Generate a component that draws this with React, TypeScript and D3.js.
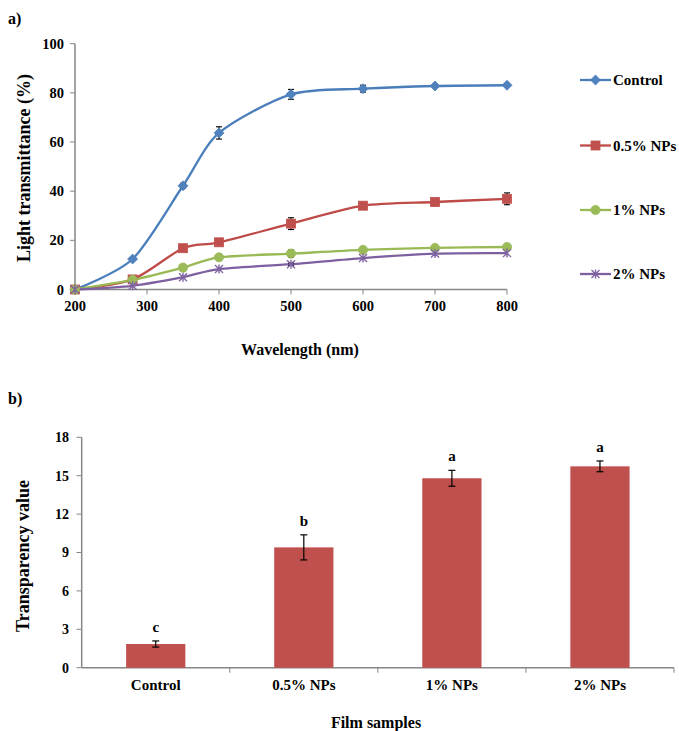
import React from "react";
import * as d3 from "d3";

const wavelengths = [200, 280, 350, 400, 500, 600, 700, 800];
const seriesNames = ["Control", "0.5% NPs", "1% NPs", "2% NPs"];
const controlVals = [0, 12.4, 42.2, 63.7, 79.4, 81.7, 82.8, 83.1];
const np05Vals = [0, 4.1, 16.8, 19.2, 26.8, 34.1, 35.6, 36.9];
const np1Vals = [0, 3.9, 8.9, 13.1, 14.6, 16.1, 16.9, 17.3];
const np2Vals = [0, 1.5, 5.0, 8.3, 10.3, 12.8, 14.6, 14.8];
const controlErr = [0, 0.6, 1, 2.5, 2, 1.4, 0.5, 0.5];
const np05Err = [0, 0.5, 0.8, 0.6, 2.4, 0.8, 0.5, 2.4];
const np1Err = [0, 0.3, 0.3, 0.4, 1.5, 0.4, 0.3, 0.3];
const np2Err = [0, 0.2, 0.3, 0.4, 0.5, 0.4, 0.3, 0.3];
const yTicksTop = [0, 20, 40, 60, 80, 100];
const xTicksTop = [200, 300, 400, 500, 600, 700, 800];

const barCats = ["Control", "0.5% NPs", "1% NPs", "2% NPs"];
const barVals = [1.85, 9.4, 14.8, 15.73];
const barErr = [0.24, 0.98, 0.62, 0.42];
const barLetters = ["c", "b", "a", "a"];
const yTicksBot = [0, 3, 6, 9, 12, 15, 18];

const FONT = '"Times New Roman", "Liberation Serif", "DejaVu Serif", serif';
const AXIS = "#868686";
const colors = ["#4A7EBB", "#BE4B48", "#98B954", "#7D60A0"];
const markerFill = ["#4F81BD", "#C0504D", "#9BBB59", "#8064A2"];

function Marker({ kind, x, y }: { kind: number; x: number; y: number }) {
  const c = markerFill[kind];
  if (kind === 0) {
    const s = 5;
    return <path d={`M${x},${y - s}L${x + s},${y}L${x},${y + s}L${x - s},${y}Z`} fill={c} stroke={c} strokeWidth={0.8} />;
  }
  if (kind === 1) {
    return <rect x={x - 4.5} y={y - 4.5} width={9} height={9} fill={c} stroke={c} strokeWidth={0.8} />;
  }
  if (kind === 2) {
    return <circle cx={x} cy={y} r={4.6} fill={c} stroke={c} strokeWidth={0.8} />;
  }
  const s = 4;
  return (
    <path
      d={`M${x - s},${y - s}L${x + s},${y + s}M${x - s},${y + s}L${x + s},${y - s}M${x},${y - s - 0.5}L${x},${y + s + 0.5}`}
      stroke={c}
      strokeWidth={1.4}
      fill="none"
    />
  );
}

const T = (props: any) => (
  <text {...props} style={{ fontFamily: FONT, fontWeight: "bold", ...(props.style || {}) }} />
);

export default function App() {
  const allVals = [controlVals, np05Vals, np1Vals, np2Vals];
  const allErr = [controlErr, np05Err, np1Err, np2Err];

  const x = d3.scaleLinear().domain([200, 800]).range([75, 507]);
  const y = d3.scaleLinear().domain([0, 100]).range([289.5, 43.7]);
  const line = d3
    .line<number>()
    .x((_, i) => x(wavelengths[i]))
    .y((v) => y(v))
    .curve(d3.curveCardinal.tension(0.2));

  const xb = d3.scaleBand().domain(barCats).range([81.7, 674]).paddingInner(0.6).paddingOuter(0.3);
  const xbTicks = d3.scaleBand().domain(barCats).range([81.7, 674]);
  const yb = d3.scaleLinear().domain([0, 18]).range([667.7, 437.3]);

  const legendY = [80, 145.5, 210, 274];

  return (
    <svg
      width={679}
      height={731}
      style={{ position: "absolute", left: 0, top: 0, background: "#fff" }}
    >
      <rect width={679} height={731} fill="#fff" />
      <T x={8} y={24} fontSize={16}>a)</T>

      <line x1={75} y1={y(0)} x2={75} y2={y(100)} stroke={AXIS} strokeWidth={1.5} />
      <line x1={75} y1={y(0)} x2={507} y2={y(0)} stroke={AXIS} strokeWidth={1.5} />
      {yTicksTop.map((t) => (
        <g key={"yt" + t}>
          <line x1={70} x2={75} y1={y(t)} y2={y(t)} stroke={AXIS} strokeWidth={1} />
          <T x={64} y={y(t)} dy="0.35em" textAnchor="end" fontSize={14.5}>{t}</T>
        </g>
      ))}
      {xTicksTop.map((t) => (
        <g key={"xt" + t}>
          <line x1={x(t)} x2={x(t)} y1={y(0)} y2={y(0) + 5} stroke={AXIS} strokeWidth={1} />
          <T x={x(t)} y={311} textAnchor="middle" fontSize={14.5}>{t}</T>
        </g>
      ))}
      <T transform={`translate(30,168) rotate(-90)`} textAnchor="middle" fontSize={18}>
        Light transmittance (%)
      </T>
      <T x={300} y={355} textAnchor="middle" fontSize={16}>Wavelength (nm)</T>

      {allVals.map((vals, si) => (
        <path key={"ln" + si} d={line(vals) || ""} fill="none" stroke={colors[si]} strokeWidth={2.3} />
      ))}
      {allVals.map((vals, si) =>
        vals.map((v, i) =>
          allErr[si][i] > 0.45 ? (
            <g key={`e${si}-${i}`} stroke="#000" strokeWidth={1.1}>
              <line x1={x(wavelengths[i])} x2={x(wavelengths[i])} y1={y(v - allErr[si][i])} y2={y(v + allErr[si][i])} />
              <line x1={x(wavelengths[i]) - 3} x2={x(wavelengths[i]) + 3} y1={y(v - allErr[si][i])} y2={y(v - allErr[si][i])} />
              <line x1={x(wavelengths[i]) - 3} x2={x(wavelengths[i]) + 3} y1={y(v + allErr[si][i])} y2={y(v + allErr[si][i])} />
            </g>
          ) : null
        )
      )}
      {allVals.map((vals, si) =>
        vals.map((v, i) => <Marker key={`m${si}-${i}`} kind={si} x={x(wavelengths[i])} y={y(v)} />)
      )}

      {seriesNames.map((n, i) => (
        <g key={"lg" + i}>
          <line x1={580} x2={611} y1={legendY[i]} y2={legendY[i]} stroke={colors[i]} strokeWidth={2.3} />
          <Marker kind={i} x={595.5} y={legendY[i]} />
          <T x={613} y={legendY[i]} dy="0.35em" fontSize={15}>{n}</T>
        </g>
      ))}

      <T x={8} y={404} fontSize={16}>b)</T>
      <line x1={81.7} y1={yb(0)} x2={81.7} y2={yb(18)} stroke={AXIS} strokeWidth={1.5} />
      <line x1={81.7} y1={yb(0)} x2={674} y2={yb(0)} stroke={AXIS} strokeWidth={1.5} />
      {yTicksBot.map((t) => (
        <g key={"ybt" + t}>
          <line x1={76.5} x2={81.7} y1={yb(t)} y2={yb(t)} stroke={AXIS} strokeWidth={1} />
          <T x={69} y={yb(t)} dy="0.35em" textAnchor="end" fontSize={14}>{t}</T>
        </g>
      ))}
      {barCats.map((c) => (
        <line key={"xbt" + c} x1={(xbTicks(c) as number) + xbTicks.bandwidth()} x2={(xbTicks(c) as number) + xbTicks.bandwidth()} y1={yb(0)} y2={yb(0) + 5} stroke={AXIS} strokeWidth={1} />
      ))}
      {barCats.map((c, i) => {
        const bx = xb(c) as number;
        const cx = bx + xb.bandwidth() / 2;
        const top = yb(barVals[i] + barErr[i]);
        const bot = yb(barVals[i] - barErr[i]);
        return (
          <g key={"bar" + c}>
            <rect x={bx} y={yb(barVals[i])} width={xb.bandwidth()} height={yb(0) - yb(barVals[i])} fill="#C0504D" />
            <g stroke="#000" strokeWidth={1.2}>
              <line x1={cx} x2={cx} y1={top} y2={bot} />
              <line x1={cx - 3.5} x2={cx + 3.5} y1={top} y2={top} />
              <line x1={cx - 3.5} x2={cx + 3.5} y1={bot} y2={bot} />
            </g>
            <T x={cx} y={top - 9} textAnchor="middle" fontSize={15}>{barLetters[i]}</T>
            <T x={cx} y={690} textAnchor="middle" fontSize={15}>{c}</T>
          </g>
        );
      })}
      <T transform={`translate(29,556) rotate(-90)`} textAnchor="middle" fontSize={18}>
        Transparency value
      </T>
      <T x={376} y={728} textAnchor="middle" fontSize={16}>Film samples</T>
    </svg>
  );
}
